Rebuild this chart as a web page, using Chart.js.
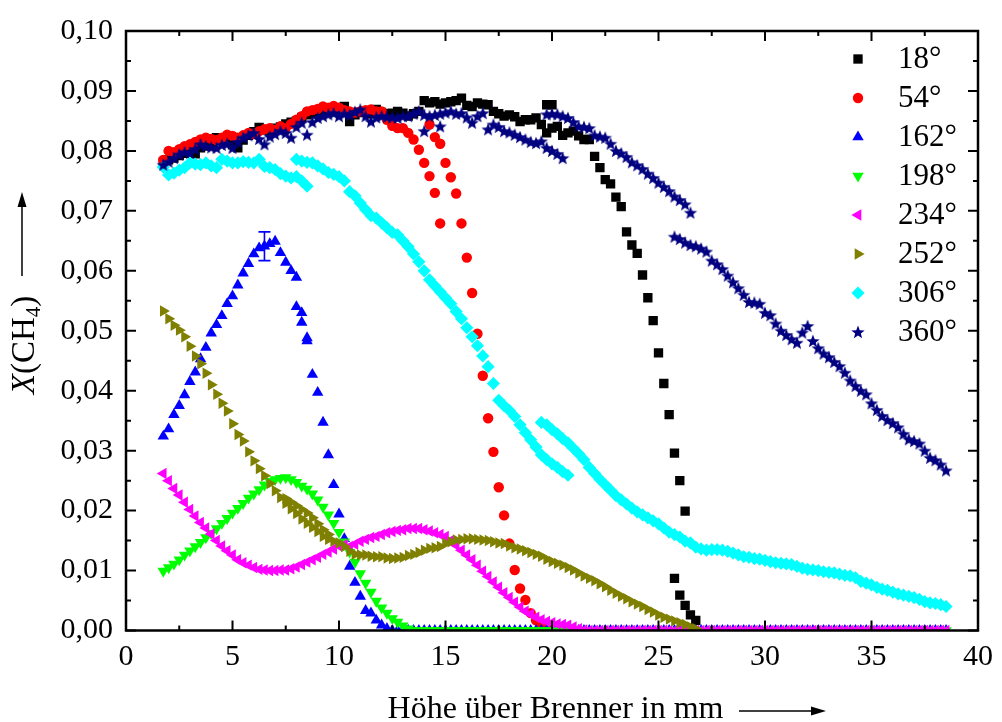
<!DOCTYPE html>
<html>
<head>
<meta charset="utf-8">
<script src="https://cdn.jsdelivr.net/npm/chart.js@4/dist/chart.umd.min.js"></script>
<style>
  html, body { margin: 0; padding: 0; background: #ffffff; }
  canvas { display: block; }
</style>
</head>
<body>
<canvas id="chart" width="1002" height="722"></canvas>
<script>
// Measurement heights above the burner (mm); every scan below starts at one of these.
const heights = [
  1.75,
  2, 2.25, 2.5, 2.75,   3, 3.25, 3.5, 3.75,   4, 4.25, 4.5, 4.75,   5, 5.25, 5.5, 5.75,
  6, 6.25, 6.5, 6.75,   7, 7.25, 7.5, 7.75,   8, 8.25, 8.5, 8.75,   9, 9.25, 9.5, 9.75,
  10, 10.25, 10.5, 10.75, 11, 11.25, 11.5, 11.75, 12, 12.25, 12.5, 12.75, 13, 13.25, 13.5, 13.75,
  14, 14.25, 14.5, 14.75, 15, 15.25, 15.5, 15.75, 16, 16.25, 16.5, 16.75, 17, 17.25, 17.5, 17.75,
  18, 18.25, 18.5, 18.75, 19, 19.25, 19.5, 19.75, 20, 20.25, 20.5, 20.75, 21, 21.25, 21.5, 21.75,
  22, 22.25, 22.5, 22.75, 23, 23.25, 23.5, 23.75, 24, 24.25, 24.5, 24.75, 25, 25.25, 25.5, 25.75,
  26, 26.25, 26.5, 26.75, 27, 27.25, 27.5, 27.75, 28, 28.25, 28.5, 28.75, 29, 29.25, 29.5, 29.75,
  30, 30.25, 30.5, 30.75, 31, 31.25, 31.5, 31.75, 32, 32.25, 32.5, 32.75, 33, 33.25, 33.5, 33.75,
  34, 34.25, 34.5, 34.75, 35, 35.25, 35.5, 35.75, 36, 36.25, 36.5, 36.75, 37, 37.25, 37.5, 37.75,
  38, 38.25, 38.5
];

// Mole fraction X(CH4), one array per scan.
// 18°
const x18a = [
  0.0781,
  0.0785, 0.0788, 0.0792, 0.0796,  0.0798, 0.0795, 0.0805, 0.0808,  0.0812, 0.0822, 0.0818, 0.0815,
  0.0810, 0.0805, 0.0818, 0.0826,  0.0832, 0.0839, 0.0835, 0.0833,  0.0838, 0.0840, 0.0845, 0.0848,
  0.0850, 0.0856, 0.0860, 0.0862,  0.0866, 0.0869, 0.0866, 0.0868,  0.0870, 0.0874, 0.0849, 0.0860,
  0.0864, 0.0866, 0.0862, 0.0869,  0.0864, 0.0862, 0.0863, 0.0866,  0.0863, 0.0858, 0.0862, 0.0866,
  0.0884, 0.0880, 0.0882, 0.0878,  0.0880, 0.0882, 0.0884, 0.0888,  0.0876, 0.0874, 0.0880, 0.0878,
  0.0877, 0.0866, 0.0862, 0.0858,  0.0860, 0.0857, 0.0849, 0.0852,  0.0852, 0.0855, 0.0844, 0.0830,
  0.0838, 0.0841, 0.0826, 0.0830,  0.0833, 0.0825, 0.0819, 0.0819,  0.0791, 0.0772, 0.0752, 0.0745,
  0.0723, 0.0707, 0.0665, 0.0643,  0.0629, 0.0593, 0.0555, 0.0517,  0.0463, 0.0412, 0.0360, 0.0296,
  0.0250, 0.0199
];
const x18b = [0.0877, 0.0877];
const x18c = [0.0087, 0.0059, 0.0042, 0.0026, 0.0017];

// 54°
const x54a = [
  0.0785,
  0.0800, 0.0798, 0.0803, 0.0808,  0.0811, 0.0815, 0.0819, 0.0822,  0.0820, 0.0818, 0.0822, 0.0827,
  0.0825, 0.0822, 0.0826, 0.0830,  0.0828, 0.0833, 0.0836, 0.0838,  0.0835, 0.0841, 0.0838, 0.0845,
  0.0852, 0.0858, 0.0866, 0.0868,  0.0870, 0.0874, 0.0872, 0.0875,  0.0872, 0.0868, 0.0866, 0.0864,
  0.0866, 0.0868, 0.0869, 0.0866,  0.0866, 0.0852, 0.0842, 0.0838,  0.0838, 0.0830, 0.0819, 0.0802,
  0.0780, 0.0758, 0.0730, 0.0679
];
const x54b = [
  0.0844, 0.0823, 0.0812,
  0.0780, 0.0756, 0.0729, 0.0679,  0.0622, 0.0563, 0.0495, 0.0425,  0.0354, 0.0298, 0.0239, 0.0192,
  0.0145, 0.0101, 0.0070, 0.0051,  0.0029, 0.0017, 0.0009, 0.0004,  0, 0, 0
];

// 162°
const x162a = [
  0.0324,
  0.0336, 0.0360, 0.0375, 0.0393,  0.0415, 0.0431, 0.0453, 0.0472,  0.0496, 0.0510, 0.0525, 0.0545,
  0.0558, 0.0576, 0.0596, 0.0612,  0.0628, 0.0638, 0.0641, 0.0645,  0.0649, 0.0630, 0.0614, 0.0600,
  0.0589
];
const x162b = [
  0.0540, 0.0530, 0.0488, 0.0427,  0.0397, 0.0347, 0.0293, 0.0243,  0.0194, 0.0153, 0.0107, 0.0080,
  0.0057, 0.0033, 0.0029, 0.0017,  0.0009, 0.0003, 0, 0,
  0, 0, 0, 0,  0, 0, 0, 0,  0, 0, 0, 0,  0, 0, 0, 0,  0, 0, 0, 0,
  0, 0, 0, 0,  0, 0, 0, 0,  0, 0, 0, 0,  0, 0, 0, 0,  0, 0, 0, 0,
  0, 0, 0, 0,  0, 0, 0, 0,  0, 0, 0, 0,  0, 0, 0, 0,  0, 0, 0, 0,
  0, 0, 0, 0,  0, 0, 0, 0,  0, 0, 0, 0,  0, 0, 0, 0,  0, 0, 0, 0,
  0, 0, 0, 0,  0, 0, 0, 0,  0, 0, 0, 0,  0, 0, 0, 0,  0, 0, 0, 0,
  0, 0, 0
];
const x162c = [0.0514, 0.0483];

// 198°
const x198 = [
  0.0099,
  0.0105, 0.0111, 0.0118, 0.0126,  0.0133, 0.0140, 0.0147, 0.0155,  0.0162, 0.0170, 0.0179, 0.0187,
  0.0196, 0.0204, 0.0212, 0.0221,  0.0228, 0.0235, 0.0243, 0.0249,  0.0252, 0.0254, 0.0255, 0.0252,
  0.0247, 0.0241, 0.0236, 0.0228,  0.0218, 0.0206, 0.0193, 0.0179,  0.0164, 0.0148, 0.0131, 0.0114,
  0.0095, 0.0079, 0.0064, 0.0049,  0.0038, 0.0029, 0.0020, 0.0014,  0.0008, 0.0003, 0, 0,
  0, 0, 0, 0,  0, 0, 0, 0,  0, 0, 0, 0,  0, 0, 0, 0,  0, 0, 0, 0,
  0, 0, 0, 0,  0, 0, 0, 0,  0, 0, 0, 0,  0, 0, 0, 0,  0, 0, 0, 0,
  0, 0, 0, 0,  0, 0, 0, 0,  0, 0, 0, 0,  0, 0, 0, 0,  0, 0, 0, 0,
  0, 0, 0, 0,  0, 0, 0, 0,  0, 0, 0, 0,  0, 0, 0, 0,  0, 0, 0, 0,
  0, 0, 0, 0,  0, 0, 0, 0,  0, 0, 0, 0,  0, 0, 0, 0,
  0, 0, 0
];

// 234°
const x234 = [
  0.0262,
  0.0250, 0.0237, 0.0226, 0.0214,  0.0202, 0.0191, 0.0180, 0.0171,  0.0161, 0.0150, 0.0141, 0.0133,
  0.0126, 0.0118, 0.0113, 0.0109,  0.0105, 0.0102, 0.0101, 0.0100,  0.0100, 0.0101, 0.0101, 0.0103,
  0.0106, 0.0110, 0.0114, 0.0118,  0.0122, 0.0127, 0.0131, 0.0136,  0.0141, 0.0143, 0.0140, 0.0144,
  0.0149, 0.0152, 0.0155, 0.0157,  0.0160, 0.0163, 0.0165, 0.0167,  0.0168, 0.0170, 0.0170, 0.0170,
  0.0168, 0.0166, 0.0163, 0.0160,  0.0157, 0.0150, 0.0142, 0.0134,  0.0126, 0.0118, 0.0109, 0.0099,
  0.0090, 0.0081, 0.0072, 0.0063,  0.0055, 0.0047, 0.0039, 0.0032,  0.0027, 0.0022, 0.0018, 0.0015,
  0.0013, 0.0011, 0.0010, 0.0009,  0.0006, 0.0003, 0.0001, 0,
  0, 0, 0, 0,  0, 0, 0, 0,  0, 0, 0, 0,  0, 0, 0, 0,
  0, 0, 0, 0,  0, 0, 0, 0,  0, 0, 0, 0,  0, 0, 0, 0,
  0, 0, 0, 0,  0, 0, 0, 0,  0, 0, 0, 0,  0, 0, 0, 0,
  0, 0, 0, 0,  0, 0, 0, 0,  0, 0, 0, 0,  0, 0, 0, 0,
  0, 0, 0
];

// 252°
const x252a = [
  0.0533,
  0.0520, 0.0509, 0.0501, 0.0490,  0.0474, 0.0458, 0.0445, 0.0429,  0.0410, 0.0394, 0.0379, 0.0366,
  0.0345, 0.0327, 0.0316, 0.0298,  0.0283, 0.0270, 0.0258, 0.0245,  0.0233, 0.0222, 0.0212, 0.0203,
  0.0195, 0.0186, 0.0179, 0.0172,  0.0165, 0.0157, 0.0152, 0.0149,  0.0146, 0.0140, 0.0132, 0.0127,
  0.0126, 0.0126, 0.0124, 0.0123,  0.0123, 0.0121, 0.0120, 0.0121,  0.0122, 0.0125, 0.0127, 0.0130,
  0.0134, 0.0137, 0.0138, 0.0140,  0.0145, 0.0148, 0.0151, 0.0152,  0.0153, 0.0153, 0.0152, 0.0151,
  0.0150, 0.0148, 0.0146, 0.0145,  0.0141, 0.0138, 0.0136, 0.0133,  0.0130, 0.0127, 0.0124, 0.0119,
  0.0115, 0.0112, 0.0109, 0.0105,  0.0101, 0.0096, 0.0091, 0.0087,  0.0083, 0.0078, 0.0073, 0.0067,
  0.0062, 0.0057, 0.0053, 0.0048,  0.0044, 0.0040, 0.0035, 0.0031,  0.0026, 0.0022, 0.0019, 0.0016,
  0.0013, 0.0010, 0.0006, 0.0003
];
const x252b = [0.0220, 0.0214, 0.0208, 0.0202, 0.0196, 0.0188, 0.0178, 0.0168, 0.0160];

// 306°
const x306a = [
  0.0773,
  0.0760, 0.0763, 0.0768, 0.0772,  0.0780, 0.0778, 0.0777, 0.0780,  0.0775, 0.0772, 0.0786, 0.0783,
  0.0780, 0.0780, 0.0782, 0.0781,  0.0780, 0.0786, 0.0774, 0.0772,  0.0769, 0.0762, 0.0758, 0.0755,
  0.0757, 0.0750, 0.0741
];
const x306b = [
  0.0786, 0.0783, 0.0781, 0.0780,  0.0775, 0.0770, 0.0764, 0.0761,  0.0757, 0.0750, 0.0732, 0.0725,
  0.0713, 0.0702, 0.0692, 0.0688,  0.0680, 0.0672, 0.0664, 0.0660,  0.0650, 0.0640, 0.0628, 0.0615,
  0.0600, 0.0585, 0.0575, 0.0565,  0.0555, 0.0545, 0.0532, 0.0520,  0.0505, 0.0490, 0.0475, 0.0458,
  0.0440, 0.0412, 0.0384, 0.0375,  0.0367, 0.0357, 0.0343, 0.0330,  0.0318, 0.0306, 0.0293, 0.0285,
  0.0278, 0.0272, 0.0265, 0.0259
];
const x306c = [
  0.0347, 0.0343,
  0.0335, 0.0328, 0.0320, 0.0313,  0.0304, 0.0295, 0.0285, 0.0272,  0.0262, 0.0252, 0.0243, 0.0234,
  0.0225, 0.0218, 0.0211, 0.0204,  0.0198, 0.0193, 0.0188, 0.0183,  0.0178, 0.0171, 0.0164, 0.0160,
  0.0156, 0.0149, 0.0146, 0.0139,  0.0136, 0.0134, 0.0135, 0.0135,  0.0134, 0.0132, 0.0129, 0.0126,
  0.0123, 0.0122, 0.0120, 0.0119,  0.0117, 0.0115, 0.0113, 0.0112,  0.0111, 0.0110, 0.0107, 0.0104,
  0.0102, 0.0101, 0.0100, 0.0098,  0.0097, 0.0096, 0.0094, 0.0092,  0.0091, 0.0088, 0.0082, 0.0079,
  0.0076, 0.0072, 0.0069, 0.0067,  0.0064, 0.0061, 0.0059, 0.0057,  0.0055, 0.0052, 0.0048, 0.0046,
  0.0045, 0.0043, 0.0040
];

// 360°
const x360a = [
  0.0777,
  0.0782, 0.0788, 0.0794, 0.0798,  0.0797, 0.0803, 0.0811, 0.0808,  0.0806, 0.0805, 0.0810, 0.0812,
  0.0805, 0.0815, 0.0822, 0.0826,  0.0830, 0.0820, 0.0811, 0.0824,  0.0828, 0.0833, 0.0830, 0.0822,
  0.0840, 0.0847, 0.0827, 0.0848,  0.0855, 0.0858, 0.0861, 0.0863,  0.0858, 0.0862, 0.0860, 0.0865,
  0.0869, 0.0858, 0.0849, 0.0856,  0.0858, 0.0857, 0.0856, 0.0855,  0.0858, 0.0858, 0.0862, 0.0866,
  0.0860, 0.0858, 0.0860, 0.0862,  0.0864, 0.0866, 0.0862, 0.0863,  0.0856, 0.0847, 0.0858, 0.0863
];
const x360b = [
  0.0836, 0.0844, 0.0840, 0.0833,  0.0831, 0.0827, 0.0823, 0.0819,  0.0815, 0.0813, 0.0816, 0.0805,
  0.0800, 0.0795, 0.0788
];
const x360c = [
  0.0861,
  0.0862, 0.0861, 0.0858, 0.0855,  0.0848, 0.0841, 0.0840, 0.0838,  0.0826, 0.0824, 0.0822, 0.0812,
  0.0800, 0.0796, 0.0790, 0.0781,  0.0776, 0.0770, 0.0762, 0.0755,  0.0747, 0.0740, 0.0733, 0.0724,
  0.0718, 0.0711, 0.0697
];
const x360d = [
  0.0657,
  0.0653, 0.0647, 0.0643, 0.0641,  0.0637, 0.0632, 0.0617, 0.0611,  0.0603, 0.0592, 0.0581, 0.0571,
  0.0560, 0.0548, 0.0547, 0.0545,  0.0530, 0.0526, 0.0512, 0.0500,  0.0493, 0.0486, 0.0480, 0.0497,
  0.0508, 0.0483, 0.0471, 0.0462,  0.0456, 0.0448, 0.0441, 0.0430,  0.0417, 0.0408, 0.0400, 0.0394,
  0.0379, 0.0368, 0.0358, 0.0351,  0.0346, 0.0339, 0.0328, 0.0319,  0.0316, 0.0312, 0.0300, 0.0288,
  0.0284, 0.0277, 0.0267
];
const x360e = [0.0833];
const x360f = [0.0841];

// Single error bar on the 162° profile
const errorBarHeight = 6.5;
const errorBarLow = 0.0617;
const errorBarHigh = 0.0665;

// Axis ticks
const xMajorTicks = [0, 5, 10, 15, 20, 25, 30, 35, 40];
const xMinorTicks = [2.5, 7.5, 12.5, 17.5, 22.5, 27.5, 32.5, 37.5];
const yMajorTicks = [0, 0.01, 0.02, 0.03, 0.04, 0.05, 0.06, 0.07, 0.08, 0.09, 0.10];
const yMinorTicks = [0.005, 0.015, 0.025, 0.035, 0.045, 0.055, 0.065, 0.075, 0.085, 0.095];

const seriesLabels = ['18°', '54°', '162°', '198°', '234°', '252°', '306°', '360°'];

// ---------------------------------------------------------------------------
const SERIF = "'Liberation Serif', 'Times New Roman', serif";

function scanPoints(startHeight, values) {
  const i0 = heights.indexOf(startHeight);
  const pts = [];
  values.forEach((v, k) => {
    const x = heights[i0 + k];
    if (x !== undefined) pts.push({ x: x, y: v });
  });
  return pts;
}
function joinScans(list) {
  return list.reduce((acc, s) => acc.concat(scanPoints(s[0], s[1])), []);
}

function starSprite(color, outer, inner) {
  const size = 16;
  const c = document.createElement('canvas');
  c.width = size; c.height = size;
  const g = c.getContext('2d');
  g.fillStyle = color;
  g.beginPath();
  for (let k = 0; k < 10; k++) {
    const r = k % 2 ? inner : outer;
    const a = -Math.PI / 2 + k * Math.PI / 5;
    g.lineTo(size / 2 + r * Math.cos(a), size / 2 + 0.6 + r * Math.sin(a));
  }
  g.closePath();
  g.fill();
  return c;
}

const markerStyles = [
  { color: '#000000', pointStyle: 'rect',     rotation: 0,   radius: 6.6 },
  { color: '#ff0000', pointStyle: 'circle',   rotation: 0,   radius: 5.2 },
  { color: '#0000ff', pointStyle: 'triangle', rotation: 0,   radius: 6.6 },
  { color: '#00ff00', pointStyle: 'triangle', rotation: 180, radius: 6.6 },
  { color: '#ff00ff', pointStyle: 'triangle', rotation: -90, radius: 6.6 },
  { color: '#808000', pointStyle: 'triangle', rotation: 90,  radius: 6.6 },
  { color: '#00ffff', pointStyle: 'rectRot',  rotation: 0,   radius: 6.6 },
  { color: '#000080', pointStyle: starSprite('#000080', 7, 3), rotation: 0, radius: 7 }
];

const seriesData = [
  joinScans([[1.75, x18a], [19.75, x18b], [25.75, x18c]]),
  joinScans([[1.75, x54a], [14.25, x54b]]),
  joinScans([[1.75, x162a], [8, x162b], [8.25, x162c]]),
  joinScans([[1.75, x198]]),
  joinScans([[1.75, x234]]),
  joinScans([[1.75, x252a], [7.5, x252b]]),
  joinScans([[1.75, x306a], [8, x306b], [19.5, x306c]]),
  joinScans([[1.75, x360a], [17, x360b], [19.75, x360c], [25.75, x360d], [14, x360e], [14.75, x360f]])
];

const datasets = seriesData.map((pts, i) => {
  const m = markerStyles[i];
  return {
    label: seriesLabels[i],
    data: pts,
    showLine: false,
    pointStyle: m.pointStyle,
    pointRotation: m.rotation,
    pointRadius: m.radius,
    pointHoverRadius: m.radius,
    pointBackgroundColor: m.color,
    pointBorderColor: m.color,
    pointBorderWidth: 0,
    backgroundColor: m.color,
    borderColor: m.color,
    order: seriesData.length - i
  };
});

function drawArrow(ctx, x1, y1, x2, y2) {
  const ang = Math.atan2(y2 - y1, x2 - x1);
  const headLen = 15, headHalf = 4.5;
  const bx = x2 - headLen * Math.cos(ang), by = y2 - headLen * Math.sin(ang);
  ctx.beginPath();
  ctx.moveTo(x1, y1);
  ctx.lineTo(bx + 2 * Math.cos(ang), by + 2 * Math.sin(ang));
  ctx.stroke();
  ctx.beginPath();
  ctx.moveTo(x2, y2);
  ctx.lineTo(bx - headHalf * Math.sin(ang), by + headHalf * Math.cos(ang));
  ctx.lineTo(bx + headHalf * Math.sin(ang), by - headHalf * Math.cos(ang));
  ctx.closePath();
  ctx.fill();
}

const framePlugin = {
  id: 'frameAndAnnotations',
  afterDatasetsDraw(chart) {
    const ctx = chart.ctx;
    const xs = chart.scales.x, ys = chart.scales.y;
    const a = chart.chartArea;
    ctx.save();

    // error bar
    const ex = xs.getPixelForValue(errorBarHeight);
    const ey1 = ys.getPixelForValue(errorBarHigh);
    const ey2 = ys.getPixelForValue(errorBarLow);
    ctx.strokeStyle = '#0000ff';
    ctx.lineWidth = 1.6;
    ctx.beginPath();
    ctx.moveTo(ex, ey1); ctx.lineTo(ex, ey2);
    ctx.moveTo(ex - 6, ey1); ctx.lineTo(ex + 6, ey1);
    ctx.moveTo(ex - 6, ey2); ctx.lineTo(ex + 6, ey2);
    ctx.stroke();

    // inward tick marks on all four sides
    ctx.strokeStyle = '#000000';
    ctx.lineWidth = 2;
    ctx.beginPath();
    const xTick = (v, len) => {
      const p = xs.getPixelForValue(v);
      ctx.moveTo(p, a.bottom); ctx.lineTo(p, a.bottom - len);
      ctx.moveTo(p, a.top); ctx.lineTo(p, a.top + len);
    };
    const yTick = (v, len) => {
      const p = ys.getPixelForValue(v);
      ctx.moveTo(a.left, p); ctx.lineTo(a.left + len, p);
      ctx.moveTo(a.right, p); ctx.lineTo(a.right - len, p);
    };
    xMajorTicks.forEach(v => xTick(v, 10));
    xMinorTicks.forEach(v => xTick(v, 5));
    yMajorTicks.forEach(v => yTick(v, 10));
    yMinorTicks.forEach(v => yTick(v, 5));
    ctx.stroke();

    // frame
    ctx.lineWidth = 2.5;
    ctx.strokeRect(a.left, a.top, a.right - a.left, a.bottom - a.top);
    ctx.restore();
  },
  afterDraw(chart) {
    const ctx = chart.ctx;
    ctx.save();

    // legend inside the plot, top right
    const helpers = Chart.helpers;
    seriesLabels.forEach((label, i) => {
      const m = markerStyles[i];
      const y = 59 + 39 * i;
      ctx.fillStyle = m.color;
      ctx.strokeStyle = m.color;
      helpers.drawPoint(ctx, {
        pointStyle: m.pointStyle, rotation: m.rotation, radius: m.radius, borderWidth: 0
      }, 858, y);
      ctx.fillStyle = '#000000';
      ctx.font = '31px ' + SERIF;
      ctx.textAlign = 'left';
      ctx.textBaseline = 'middle';
      ctx.fillText(label, 898, y + 1);
    });

    // x-axis title with arrow
    ctx.fillStyle = '#000000';
    ctx.strokeStyle = '#000000';
    ctx.lineWidth = 1.5;
    ctx.font = '32px ' + SERIF;
    ctx.textAlign = 'center';
    ctx.textBaseline = 'alphabetic';
    ctx.fillText('Höhe über Brenner in mm', 555.5, 718);
    drawArrow(ctx, 739, 711, 826, 711);

    // y-axis title X(CH4), rotated, with arrow
    ctx.save();
    ctx.translate(34, 345);
    ctx.rotate(-Math.PI / 2);
    const parts = [
      { t: 'X', f: 'italic 33px ' + SERIF, dy: 0 },
      { t: '(CH', f: '33px ' + SERIF, dy: 0 },
      { t: '4', f: '21px ' + SERIF, dy: 6 },
      { t: ')', f: '33px ' + SERIF, dy: 0 }
    ];
    let total = 0;
    parts.forEach(p => { ctx.font = p.f; p.w = ctx.measureText(p.t).width; total += p.w; });
    let cx = -total / 2;
    ctx.textAlign = 'left';
    parts.forEach(p => { ctx.font = p.f; ctx.fillText(p.t, cx, p.dy); cx += p.w; });
    ctx.restore();
    drawArrow(ctx, 22, 276, 22, 192);

    ctx.restore();
  }
};

new Chart(document.getElementById('chart'), {
  type: 'scatter',
  data: { datasets: datasets },
  options: {
    responsive: false,
    animation: false,
    devicePixelRatio: 1,
    layout: { padding: { left: 0, right: 17, top: 29.5, bottom: 0 } },
    plugins: { legend: { display: false }, tooltip: { enabled: false } },
    events: [],
    scales: {
      x: {
        type: 'linear',
        min: 0, max: 40,
        afterBuildTicks: s => { s.ticks = xMajorTicks.map(v => ({ value: v })); },
        afterFit: s => { s.height = 91.5; },
        grid: { display: false, drawTicks: false },
        border: { display: false },
        ticks: {
          padding: 9,
          color: '#000000',
          font: { family: SERIF, size: 30 },
          maxRotation: 0,
          autoSkip: false,
          callback: v => String(v)
        }
      },
      y: {
        type: 'linear',
        min: 0, max: 0.1,
        afterBuildTicks: s => { s.ticks = yMajorTicks.map(v => ({ value: v })); },
        afterFit: s => { s.width = 126; },
        grid: { display: false, drawTicks: false },
        border: { display: false },
        ticks: {
          padding: 13,
          color: '#000000',
          font: { family: SERIF, size: 30 },
          autoSkip: false,
          callback: v => v.toFixed(2).replace('.', ',')
        }
      }
    }
  },
  plugins: [framePlugin]
});
</script>
</body>
</html>
